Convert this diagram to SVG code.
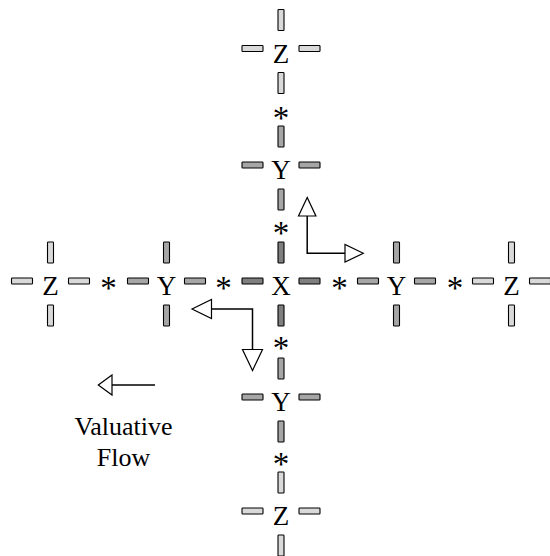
<svg xmlns="http://www.w3.org/2000/svg" width="550" height="556" viewBox="0 0 550 556">
<style>
text{font-family:"Liberation Serif","Times New Roman",serif;font-size:27px;fill:#000;stroke:none;text-anchor:middle}
.ast{font-size:33px}
.lg{font-size:26px}
.bz{fill:#d9d9d9;stroke:#000;stroke-width:1.1}
.by{fill:#a6a6a6;stroke:#000;stroke-width:1.1}
.bx{fill:#7f7f7f;stroke:#000;stroke-width:1.1}
.ln{fill:none;stroke:#000;stroke-width:1.5}
.hd{fill:#fff;stroke:#000;stroke-width:1.2}
</style>
<defs>
<g id="vb"><rect x="-3" y="-10.5" width="6" height="21" rx="0.8"/></g>
<g id="hb"><rect x="-10.5" y="-3" width="21" height="6" rx="0.8"/></g>
<g id="bars">
<use href="#vb" y="-31.5"/><use href="#vb" y="31.5"/>
<use href="#hb" x="-28.5" y="-3"/><use href="#hb" x="28.5" y="-3"/>
</g>
</defs>
<g id="node-Zt" class="bz" transform="translate(281,51.5)"><use href="#bars"/><text y="11">Z</text></g>
<g id="node-Yt" class="by" transform="translate(281,168)"><use href="#bars"/><text y="11">Y</text></g>
<g id="node-X" class="bx" transform="translate(281,284)"><use href="#bars"/><text y="11">X</text></g>
<g id="node-Yb" class="by" transform="translate(281,400)"><use href="#bars"/><text y="11">Y</text></g>
<g id="node-Zb" class="bz" transform="translate(281,514)"><use href="#bars"/><text y="11">Z</text></g>
<g id="node-Zl" class="bz" transform="translate(50.5,284)"><use href="#bars"/><text y="11">Z</text></g>
<g id="node-Yl" class="by" transform="translate(166.5,284)"><use href="#bars"/><text y="11">Y</text></g>
<g id="node-Yr" class="by" transform="translate(396.5,284)"><use href="#bars"/><text y="11">Y</text></g>
<g id="node-Zr" class="bz" transform="translate(511.5,284)"><use href="#bars"/><text y="11">Z</text></g>
<g id="links" class="ast">
<text class="ast" x="108.5" y="299">*</text>
<text class="ast" x="223.5" y="299">*</text>
<text class="ast" x="339.5" y="299">*</text>
<text class="ast" x="455" y="299">*</text>
<text class="ast" x="281" y="129">*</text>
<text class="ast" x="281" y="244">*</text>
<text class="ast" x="281" y="358.5">*</text>
<text class="ast" x="281" y="475">*</text>
</g>
<g id="connectors">
<path class="ln" d="M345,253.3 H307.2 V216"/>
<polygon class="hd" points="307.2,197.5 298.5,216 315.9,216"/>
<polygon class="hd" points="363.3,253.3 345,244.5 345,262.1"/>
<path class="ln" d="M211.5,309 H252.5 V349.5"/>
<polygon class="hd" points="192,309 211.5,299.5 211.5,318.5"/>
<polygon class="hd" points="252.5,370.5 242.5,349.5 262.5,349.5"/>
<path class="ln" d="M155,385 H112"/>
<polygon class="hd" points="98.3,385 112,375 112,395"/>
</g>
<g id="legend">
<text class="lg" x="123.5" y="435">Valuative</text>
<text class="lg" x="123.5" y="466">Flow</text>
</g>
</svg>
